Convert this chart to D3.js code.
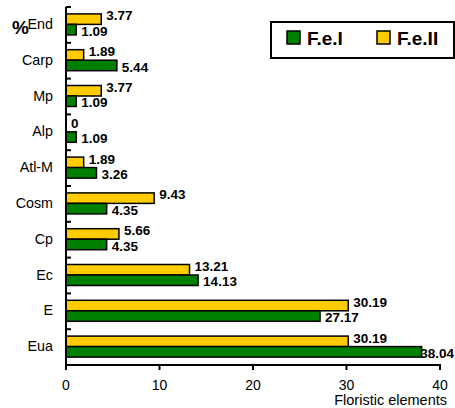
<!DOCTYPE html>
<html><head><meta charset="utf-8">
<script src="https://cdn.jsdelivr.net/npm/d3@7"></script>
<style>body{margin:0;background:#fff}svg{display:block;font-family:Arial,"Liberation Sans",sans-serif}</style>
</head><body><div id="chart"></div>
<script>
const categories = ["End","Carp","Mp","Alp","Atl-M","Cosm","Cp","Ec","E","Eua"];
const feI  = [1.09,5.44,1.09,1.09,3.26,4.35,4.35,14.13,27.17,38.04];
const feII = [3.77,1.89,3.77,0,1.89,9.43,5.66,13.21,30.19,30.19];
const xTicks = [0,10,20,30,40];
const seriesNames = ["F.e.I","F.e.II"];
const colors = {"F.e.I":"#008000","F.e.II":"#FFCC00"};

const W=455,H=408;
const svg=d3.select("#chart").append("svg").attr("width",W).attr("height",H);
const x=d3.scaleLinear().domain([0,40]).range([66,440]);
const y=d3.scaleBand().domain(categories).range([7,365]).padding(0);
const bh=10.5;

// bars
categories.forEach((c,i)=>{
  const cy=y(c)+y.bandwidth()/2-0.5;
  const rows=[{name:"F.e.II",v:feII[i],y0:cy-bh,dy:-3.5},{name:"F.e.I",v:feI[i],y0:cy,dy:1.5}];
  rows.forEach(r=>{
    svg.append("rect").attr("x",x(0)).attr("y",r.y0).attr("width",x(r.v)-x(0)).attr("height",bh)
      .attr("fill",colors[r.name]).attr("stroke","#000").attr("stroke-width",1.5);
  });
  rows.forEach(r=>{
    let lx=x(r.v)+5;
    const t=svg.append("text").attr("x",lx).attr("y",r.y0+bh/2+r.dy).attr("dy","0.35em")
      .attr("font-size",13.5).attr("font-weight","bold").attr("fill","#000").text(r.v===0?"0":r.v.toFixed(2));
    const w=t.node().getComputedTextLength();
    if(lx+w>W-1) t.attr("x",W-1-w);
  });
});

// y axis
svg.append("line").attr("x1",x(0)).attr("x2",x(0)).attr("y1",7).attr("y2",365).attr("stroke","#000").attr("stroke-width",2);
categories.forEach(c=>{
  svg.append("line").attr("x1",x(0)).attr("x2",x(0)+5).attr("y1",y(c)).attr("y2",y(c)).attr("stroke","#000").attr("stroke-width",2);
  svg.append("text").attr("x",53).attr("y",y(c)+y.bandwidth()/2-1).attr("dy","0.35em").attr("text-anchor","end")
    .attr("font-size",14.3).attr("fill","#000").text(c);
});
// x axis
svg.append("line").attr("x1",x(0)-1).attr("x2",x(40)+1).attr("y1",365).attr("y2",365).attr("stroke","#000").attr("stroke-width",2);
xTicks.forEach(t=>{
  svg.append("line").attr("x1",x(t)).attr("x2",x(t)).attr("y1",365).attr("y2",370).attr("stroke","#000").attr("stroke-width",2);
  svg.append("text").attr("x",x(t)).attr("y",390).attr("text-anchor","middle").attr("font-size",14).attr("fill","#000").text(t);
});
svg.append("text").attr("x",447).attr("y",405).attr("text-anchor","end").attr("font-size",14.5).attr("fill","#000").text("Floristic elements");
svg.append("text").attr("x",12).attr("y",34).attr("font-size",19).attr("font-weight","bold").attr("fill","#000").text("%");

// legend
svg.append("rect").attr("x",271).attr("y",22).attr("width",183).attr("height",36).attr("fill","#fff").attr("stroke","#000").attr("stroke-width",2);
const lx=[287,377];
seriesNames.forEach((n,i)=>{
  svg.append("rect").attr("x",lx[i]).attr("y",31).attr("width",13).attr("height",13).attr("fill",colors[n]).attr("stroke","#000").attr("stroke-width",1.5);
  svg.append("text").attr("x",lx[i]+20).attr("y",45).attr("font-size",19).attr("font-weight","bold").attr("fill","#000").text(n);
});
</script></body></html>
